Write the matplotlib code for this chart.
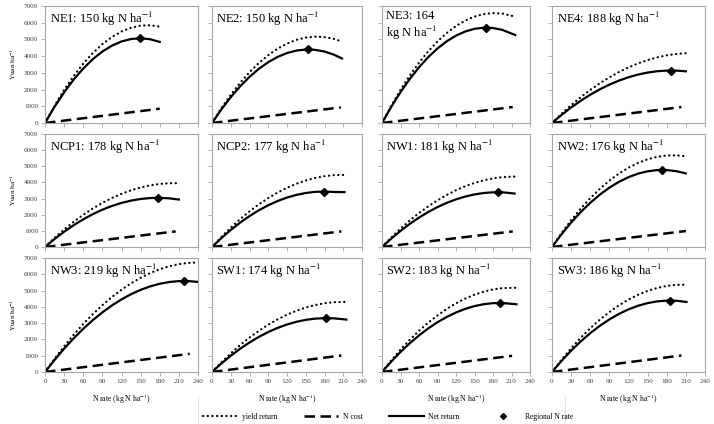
import matplotlib
matplotlib.use("Agg")
import matplotlib.pyplot as plt
from matplotlib.lines import Line2D

plt.rcParams['font.family'] = ['Liberation Serif', 'DejaVu Serif']
plt.rcParams['mathtext.fontset'] = 'stix'

# regions and regional N rate from the titles
regions = ["NE1", "NE2", "NE3", "NE4",
           "NCP1", "NCP2", "NW1", "NW2",
           "NW3", "SW1", "SW2", "SW3"]
title_rate = ["150", "150", "164", "188",
              "178", "177", "181", "176",
              "219", "174", "183", "186"]

# N rates at which the curves were read (kg N/ha)
grid_180 = [0, 15, 30, 45, 60, 75, 90, 105, 120, 135, 150, 165, 180]
grid_195 = grid_180 + [195]
n_pts = {
    "NE1": grid_180,
    "NE2": grid_195 + [208],
    "NE3": grid_195 + [216],
    "NE4": grid_195 + [210],
    "NCP1": grid_195 + [210],
    "NCP2": grid_195 + [212],
    "NW1": grid_195 + [215],
    "NW2": grid_195 + [210],
    "NW3": grid_195 + [210, 225, 240],
    "SW1": grid_195 + [215],
    "SW2": grid_195 + [218],
    "SW3": grid_195 + [211],
}

# yield return (Yuan/ha)
yield_ret = {
    "NE1": [0, 1041, 1980, 2817, 3553, 4186, 4717, 5147, 5474, 5700, 5824, 5846, 5765],
    "NE2": [0, 883, 1684, 2402, 3037, 3589, 4059, 4446, 4750, 4972, 5111, 5167, 5141, 5032, 4870],
    "NE3": [0, 1035, 1982, 2840, 3610, 4291, 4883, 5387, 5802, 6129, 6367, 6516, 6577, 6549, 6362],
    "NE4": [0, 553, 1067, 1542, 1978, 2374, 2731, 3049, 3327, 3567, 3767, 3928, 4049, 4132, 4175],
    "NCP1": [0, 564, 1084, 1561, 1994, 2385, 2732, 3036, 3296, 3514, 3688, 3818, 3906, 3950, 3951],
    "NCP2": [0, 622, 1197, 1725, 2207, 2642, 3031, 3374, 3669, 3918, 4121, 4277, 4387, 4450, 4465],
    "NW1": [0, 589, 1135, 1639, 2100, 2518, 2893, 3226, 3517, 3764, 3969, 4131, 4251, 4328, 4362],
    "NW2": [0, 863, 1655, 2376, 3025, 3604, 4112, 4549, 4915, 5209, 5433, 5586, 5667, 5678, 5617],
    "NW3": [0, 816, 1579, 2290, 2948, 3552, 4105, 4604, 5051, 5445, 5786, 6074, 6310, 6492, 6622,
            6700, 6724],
    "SW1": [0, 594, 1144, 1650, 2112, 2530, 2903, 3233, 3519, 3760, 3958, 4111, 4220, 4286, 4304],
    "SW2": [0, 711, 1369, 1975, 2528, 3029, 3477, 3874, 4217, 4509, 4747, 4934, 5068, 5150, 5173],
    "SW3": [0, 758, 1458, 2100, 2685, 3212, 3681, 4093, 4447, 4743, 4982, 5163, 5286, 5352, 5359],
}

# net return (Yuan/ha)
net_ret = {
    "NE1": [0, 969, 1836, 2600, 3261, 3819, 4275, 4627, 4878, 5025, 5069, 5011, 4850],
    "NE2": [0, 815, 1547, 2196, 2761, 3242, 3640, 3954, 4185, 4333, 4397, 4377, 4274, 4088, 3859],
    "NE3": [0, 968, 1846, 2634, 3333, 3941, 4460, 4888, 5227, 5476, 5635, 5703, 5682, 5572, 5265],
    "NE4": [0, 484, 927, 1330, 1692, 2014, 2296, 2537, 2737, 2898, 3018, 3097, 3136, 3135, 3093],
    "NCP1": [0, 494, 945, 1352, 1715, 2034, 2310, 2542, 2730, 2874, 2975, 3032, 3045, 3014, 2940],
    "NCP2": [0, 552, 1055, 1510, 1917, 2276, 2587, 2849, 3063, 3228, 3346, 3415, 3436, 3408, 3400],
    "NW1": [0, 520, 997, 1431, 1821, 2169, 2473, 2734, 2951, 3126, 3257, 3345, 3389, 3391, 3310],
    "NW2": [0, 792, 1512, 2161, 2737, 3242, 3675, 4036, 4326, 4544, 4690, 4764, 4766, 4697, 4556],
    "NW3": [0, 742, 1432, 2069, 2652, 3183, 3661, 4086, 4458, 4778, 5044, 5257, 5418, 5526, 5580,
            5582, 5531],
    "SW1": [0, 520, 996, 1427, 1814, 2157, 2455, 2708, 2917, 3082, 3202, 3277, 3308, 3295, 3220],
    "SW2": [0, 640, 1228, 1763, 2247, 2677, 3056, 3382, 3656, 3878, 4047, 4164, 4228, 4240, 4158],
    "SW3": [0, 683, 1308, 1875, 2384, 2836, 3230, 3567, 3846, 4067, 4230, 4336, 4384, 4375, 4301],
}

# N cost line: end point (N rate, Yuan/ha)
cost_end_n = [180, 206, 212, 203, 205, 207, 212, 210, 227, 207, 211, 203]
cost_end_v = [855, 934, 954, 954, 967, 967, 967, 988, 1117, 1014, 993, 1014]

# regional N rate point on net return curve
reg_n = [149, 154, 169, 187, 177, 179, 188, 173, 218, 183, 191, 185]
reg_v = [5070, 4400, 5706, 3141, 3045, 3436, 3395, 4774, 5587, 3310, 4242, 4387]

W, H = 714, 424
fig = plt.figure(figsize=(W / 100, H / 100), dpi=100)

col_px = [(45, 198), (212, 362), (382, 530), (552, 705)]
row_px = [(6, 123), (134, 247), (258, 372)]

grey = '#a6a6a6'
dot_style = (0, (0.1, 2.0))
dash_style = (0, (4.2, 2.2))

for i, reg in enumerate(regions):
    r, c = divmod(i, 4)
    x0, x1 = col_px[c]
    y0, y1 = row_px[r]
    ax = fig.add_axes([x0 / W, 1 - y1 / H, (x1 - x0) / W, (y1 - y0) / H])

    ax.plot(n_pts[reg], yield_ret[reg], color='black', lw=1.6,
            linestyle=dot_style, dash_capstyle='round')
    ax.plot([0, cost_end_n[i]], [0, cost_end_v[i]], color='black', lw=1.8,
            linestyle=dash_style)
    ax.plot(n_pts[reg], net_ret[reg], color='black', lw=1.6, solid_joinstyle='round')
    ax.plot([reg_n[i]], [reg_v[i]], marker='D', ms=4.5, color='black')

    ax.set_xlim(0, 240)
    ax.set_ylim(0, 7000)
    ax.set_xticks(range(0, 241, 30))
    ax.set_yticks(range(0, 7001, 1000))
    for s in ax.spines.values():
        s.set_color(grey)
        s.set_linewidth(0.8)
    ax.tick_params(direction='out', length=3, width=0.6, color=grey,
                   labelsize=5.2, labelcolor='#444444', pad=2)
    if c != 0:
        ax.set_yticklabels([])
    else:
        ax.set_ylabel("Yuan ha$^{-1}$", fontsize=5.2, labelpad=4)
    if r != 2:
        ax.set_xticklabels([])
    else:
        ax.set_xlabel("N rate (kg N ha$^{-1}$)", fontsize=5.5, labelpad=6)

    if reg == "NE3":
        label = reg + ": " + title_rate[i] + "\nkg N ha$^{-1}$"
    else:
        label = reg + ": " + title_rate[i] + " kg N ha$^{-1}$"
    ax.text(0.03, 0.965, label, transform=ax.transAxes, ha='left', va='top',
            fontsize=9, linespacing=1.1)

handles = [
    Line2D([], [], color='black', lw=1.6, linestyle=dot_style, dash_capstyle='round'),
    Line2D([], [], color='black', lw=1.8, linestyle=dash_style),
    Line2D([], [], color='black', lw=1.6),
    Line2D([], [], color='black', marker='D', ms=3, linestyle='none'),
]
labels = ["yield return", "N cost", "Net return", "Regional N rate"]
fig.legend(handles, labels, loc='center', bbox_to_anchor=(388 / W, 1 - 417 / H),
           ncol=4, frameon=False, fontsize=5.5, handlelength=4.5,
           columnspacing=3.5, handletextpad=0.6)

for xp in (198, 565):
    fig.add_artist(Line2D([xp / W, xp / W], [0, 1 - 396 / H],
                          color='#e4e4e4', lw=0.8))

fig.savefig("out.png", dpi=100)
